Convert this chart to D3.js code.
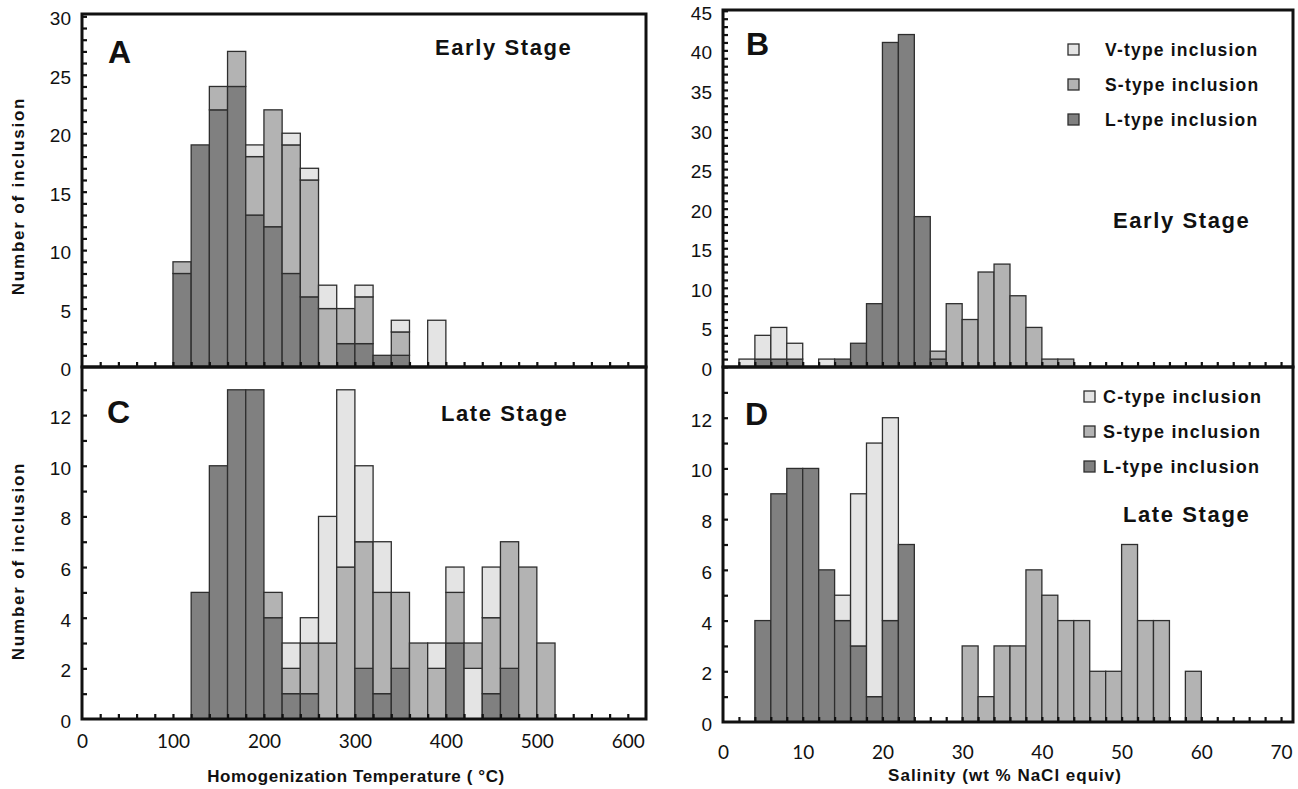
<!DOCTYPE html>
<html><head><meta charset="utf-8">
<script src="https://cdn.jsdelivr.net/npm/d3@7/dist/d3.min.js"></script>
<style>
body{margin:0;background:#fff}
svg{display:block}
</style>
</head><body>
<svg id="chart" width="1298" height="789"></svg>
<script>
// ---------------- DATA ----------------
// Panel A: Early stage, homogenization temperature (bin starts, 20 °C wide)
const earlyTempBins = [100,120,140,160,180,200,220,240,260,280,300,320,340,360,380];
const earlyTempL = [8,19,22,24,13,12,8,6,0,2,2,1,1,0,0];
const earlyTempS = [1,0,2,3,5,10,11,10,5,3,4,0,2,0,0];
const earlyTempV = [0,0,0,0,1,0,1,1,2,0,1,0,1,0,4];

// Panel B: Early stage, salinity (bin starts, 2 wt% wide)
const earlySalBins = [2,4,6,8,10,12,14,16,18,20,22,24,26,28,30,32,34,36,38,40,42];
const earlySalL = [0,1,1,1,0,0,1,3,8,41,42,19,1,0,0,0,0,0,0,0,0];
const earlySalS = [0,0,0,0,0,0,0,0,0,0,0,0,1,8,6,12,13,9,5,1,1];
const earlySalV = [1,3,4,2,0,1,0,0,0,0,0,0,0,0,0,0,0,0,0,0,0];

// Panel C: Late stage, homogenization temperature
const lateTempBins = [120,140,160,180,200,220,240,260,280,300,320,340,360,380,400,420,440,460,480,500];
const lateTempL = [5,10,13,13,4,1,1,0,0,2,1,2,0,0,3,0,1,2,0,0];
const lateTempS = [0,0,0,0,1,1,2,3,6,5,4,3,3,2,2,1,3,5,6,3];
const lateTempC = [0,0,0,0,0,1,1,5,7,3,2,0,0,1,1,2,2,0,0,0];
// stacking order (bottom -> top) of each bin
const lateTempOrder = ["LSC","LSC","LSC","LSC","LSC","LSC","LSC","LSC","LSC","LSC",
                       "LSC","LSC","LSC","LSC","LSC","LCS","LSC","LSC","LSC","LSC"];

// Panel D: Late stage, salinity
const lateSalBins = [4,6,8,10,12,14,16,18,20,22,24,26,28,30,32,34,36,38,40,42,44,46,48,50,52,54,56,58];
const lateSalL = [4,9,10,10,6,4,3,1,4,7,0,0,0,0,0,0,0,0,0,0,0,0,0,0,0,0,0,0];
const lateSalS = [0,0,0,0,0,0,0,0,0,0,0,0,0,3,1,3,3,6,5,4,4,2,2,7,4,4,0,2];
const lateSalC = [0,0,0,0,0,1,6,10,8,0,0,0,0,0,0,0,0,0,0,0,0,0,0,0,0,0,0,0];

// Tick labels
const tempTickLabels = [0,100,200,300,400,500,600];
const salTickLabels = [0,10,20,30,40,50,60,70];
const earlyTempYLabels = [0,5,10,15,20,25,30];
const earlySalYLabels = [0,5,10,15,20,25,30,35,40,45];
const lateYLabels = [0,2,4,6,8,10,12];

// Legend entries
const earlyLegend = ["V-type inclusion","S-type inclusion","L-type inclusion"];
const lateLegend = ["C-type inclusion","S-type inclusion","L-type inclusion"];

// ---------------- STYLE ----------------
const col = {L:"#808080", S:"#b3b3b3", V:"#e4e4e4", C:"#e4e4e4"};
const stroke = "#2e2e2e";
const sans = "'Liberation Sans', Arial, sans-serif";
const tickFont = "Lato, 'Liberation Sans', sans-serif";

const svg = d3.select("#chart");

function panel(cfg){
  const g = svg.append("g");
  const x = d3.scaleLinear().domain([0, cfg.xmax]).range([cfg.x0, cfg.x1]);
  const y = d3.scaleLinear().domain([0, cfg.ymax]).range([cfg.y1, cfg.y0]);

  // bars
  cfg.bins.forEach((b, i) => {
    const order = cfg.order ? cfg.order[i].split("") : cfg.keys;
    let base = 0;
    order.forEach(k => {
      const v = cfg.series[k][i];
      if (!v) return;
      g.append("rect")
        .attr("x", x(b)).attr("width", x(b + cfg.bw) - x(b))
        .attr("y", y(base + v)).attr("height", y(base) - y(base + v))
        .attr("fill", col[k]).attr("stroke", stroke).attr("stroke-width", 1.3);
      base += v;
    });
  });

  // minor ticks (inside)
  const xt = d3.axisBottom(x).tickValues(cfg.xTicks).tickSize(-5).tickFormat("");
  g.append("g").attr("transform", `translate(0,${cfg.y1})`).call(xt)
    .call(s => { s.select(".domain").remove(); s.selectAll("line").attr("stroke","#111").attr("stroke-width",2.2); });
  const yt = d3.axisLeft(y).tickValues(d3.range(1, Math.floor(cfg.ymax)+1)).tickSize(-5).tickFormat("");
  g.append("g").attr("transform", `translate(${cfg.x0},0)`).call(yt)
    .call(s => { s.select(".domain").remove(); s.selectAll("line").attr("stroke","#111").attr("stroke-width",2.2); });

  // y labels
  const yl = d3.axisLeft(y).tickValues(cfg.yLabels).tickSize(0).tickPadding(11);
  g.append("g").attr("transform", `translate(${cfg.x0},0)`).call(yl)
    .call(s => { s.select(".domain").remove();
      s.selectAll("text").attr("font-family", sans).attr("font-size", 19).attr("fill","#111").attr("dy","0.45em"); });

  // x labels
  if (cfg.xLabels){
    const xl = d3.axisBottom(x).tickValues(cfg.xLabels).tickSize(0).tickPadding(cfg.xPad);
    g.append("g").attr("transform", `translate(0,${cfg.y1})`).call(xl)
      .call(s => { s.select(".domain").remove(); s.selectAll("text").attr("font-family", tickFont).attr("font-size", 19).attr("fill","#111"); });
  }

  // frame
  g.append("rect").attr("x", cfg.x0).attr("y", cfg.y0)
    .attr("width", cfg.x1 - cfg.x0).attr("height", cfg.y1 - cfg.y0)
    .attr("fill","none").attr("stroke","#111").attr("stroke-width",3);

  // panel letter
  g.append("text").attr("x", cfg.letterPos[0]).attr("y", cfg.letterPos[1])
    .attr("font-family", sans).attr("font-weight","bold").attr("font-size",32).attr("fill","#111")
    .text(cfg.letter);
  // stage title
  g.append("text").attr("x", cfg.titlePos[0]).attr("y", cfg.titlePos[1])
    .attr("font-family", sans).attr("font-weight","bold").attr("font-size",22)
    .attr("letter-spacing", 1.6).attr("fill","#111").text(cfg.title);

  // legend
  if (cfg.legend){
    cfg.legend.forEach((t, i) => {
      const yy = cfg.legendPos[1] + i * 35;
      g.append("rect").attr("x", cfg.legendPos[0]).attr("y", yy - 12).attr("width", 11).attr("height", 11)
        .attr("fill", col[cfg.legendKeys[i]]).attr("stroke", stroke).attr("stroke-width", 1.3);
      g.append("text").attr("x", cfg.legendPos[2]).attr("y", yy)
        .attr("font-family", sans).attr("font-weight","bold").attr("font-size",cfg.legendSize)
        .attr("letter-spacing",1.2).attr("fill","#111").text(t);
    });
  }
}

panel({x0:82, x1:646, y0:14, y1:367, xmax:620, ymax:30.2, bw:20,
  bins:earlyTempBins, keys:["L","S","V"], series:{L:earlyTempL,S:earlyTempS,V:earlyTempV},
  xTicks:d3.range(20,620,20), yLabels:earlyTempYLabels,
  letter:"A", letterPos:[108,63], title:"Early Stage", titlePos:[435,55]});

panel({x0:723, x1:1293, y0:10, y1:367, xmax:71.5, ymax:45.1, bw:2,
  bins:earlySalBins, keys:["L","S","V"], series:{L:earlySalL,S:earlySalS,V:earlySalV},
  xTicks:d3.range(2,72,2), yLabels:earlySalYLabels,
  letter:"B", letterPos:[746,55], title:"Early Stage", titlePos:[1113,228],
  legend:earlyLegend, legendKeys:["V","S","L"], legendPos:[1068,56,1105], legendSize:17.5});

panel({x0:82, x1:646, y0:367, y1:719, xmax:620, ymax:13.9, bw:20,
  bins:lateTempBins, order:lateTempOrder, keys:["L","S","C"], series:{L:lateTempL,S:lateTempS,C:lateTempC},
  xTicks:d3.range(20,620,20), yLabels:lateYLabels, xLabels:tempTickLabels, xPad:16,
  letter:"C", letterPos:[107,423], title:"Late Stage", titlePos:[441,421]});

panel({x0:723, x1:1293, y0:367, y1:722, xmax:71.5, ymax:14.0, bw:2,
  bins:lateSalBins, keys:["L","S","C"], series:{L:lateSalL,S:lateSalS,C:lateSalC},
  xTicks:d3.range(2,72,2), yLabels:lateYLabels, xLabels:salTickLabels, xPad:24,
  letter:"D", letterPos:[745,425], title:"Late Stage", titlePos:[1123,522],
  legend:lateLegend, legendKeys:["C","S","L"], legendPos:[1084,403,1103], legendSize:18});

// axis titles
const titleStyle = s => s.attr("font-family", sans).attr("font-weight","bold").attr("font-size",17)
  .attr("letter-spacing",0.6).attr("fill","#111").attr("text-anchor","middle");
svg.append("text").attr("transform","translate(24,196) rotate(-90)").call(titleStyle).attr("letter-spacing",1.8).text("Number of inclusion");
svg.append("text").attr("transform","translate(24,561) rotate(-90)").call(titleStyle).attr("letter-spacing",1.8).text("Number of inclusion");
svg.append("text").attr("x",356).attr("y",782).call(titleStyle).text("Homogenization Temperature ( \u00B0C)");
svg.append("text").attr("x",1005).attr("y",781).call(titleStyle).attr("letter-spacing",1).text("Salinity (wt % NaCl equiv)");
</script>
</body></html>
